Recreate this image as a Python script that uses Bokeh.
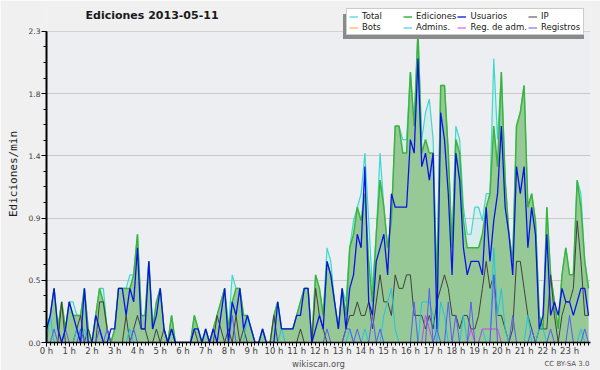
from bokeh.plotting import figure
from bokeh.models import (ColumnDataSource, Range1d, FixedTicker, Legend, LegendItem, Title, Label,
                          BoxAnnotation)
from bokeh.embed import file_html
from bokeh.resources import INLINE

title_text = "Ediciones  2013-05-11"
footer_site = "wikiscan.org"
footer_license = "CC BY-SA 3.0"
hour_labels = ["0 h", "1 h", "2 h", "3 h", "4 h", "5 h", "6 h", "7 h", "8 h", "9 h", "10 h", "11 h",
               "12 h", "13 h", "14 h", "15 h", "16 h", "17 h", "18 h", "19 h", "20 h", "21 h", "22 h", "23 h"]
y_ticks = [0, 0.46, 0.92, 1.38, 1.84, 2.3]
y_tick_labels = ["0.0", "0.5", "0.9", "1.4", "1.8", "2.3"]
y_max = 2.3

# values per 10 minutes (edits/min), 6 values per hour, 0 h .. 23 h
total = [
    0.1, 0.2, 0.4, 0.1, 0.3, 0.1,
    0.3, 0.3, 0.2, 0.2, 0.4, 0.1,
    0.0, 0.2, 0.4, 0.4, 0.1, 0.0,
    0.1, 0.4, 0.4, 0.4, 0.5, 0.5,
    0.8, 0.2, 0.2, 0.6, 0.1, 0.3,
    0.4, 0.1, 0.0, 0.2, 0.0, 0.0,
    0.0, 0.0, 0.0, 0.2, 0.1, 0.0,
    0.1, 0.0, 0.1, 0.2, 0.3, 0.4,
    0.1, 0.5, 0.4, 0.4, 0.2, 0.2,
    0.1, 0.0, 0.0, 0.1, 0.0, 0.0,
    0.2, 0.3, 0.1, 0.1, 0.1, 0.1,
    0.2, 0.3, 0.4, 0.4, 0.0, 0.5,
    0.4, 0.2, 0.7, 0.6, 0.3, 0.1,
    0.4, 0.3, 0.7, 0.9, 1.0, 1.1,
    1.4, 0.9, 0.4, 0.8, 1.4, 1.0,
    0.7, 0.9, 1.6, 1.6, 1.5, 1.5,
    2.0, 1.6, 2.3, 1.5, 1.7, 1.8,
    1.5, 0.4, 1.9, 1.9, 1.4, 0.7,
    1.6, 1.5, 1.0, 0.8, 0.8, 1.0,
    1.0, 0.9, 1.1, 1.1, 2.1, 1.5,
    2.0, 1.2, 0.8, 0.6, 1.6, 1.7,
    1.9, 1.0, 1.1, 0.9, 0.2, 0.1,
    1.0, 0.5, 0.3, 0.1, 0.5, 0.7,
    0.5, 0.5, 1.2, 1.1, 0.6, 0.4,
]
ediciones = [
    0.1, 0.2, 0.4, 0.1, 0.3, 0.1,
    0.3, 0.2, 0.2, 0.2, 0.4, 0.1,
    0.0, 0.2, 0.4, 0.3, 0.1, 0.0,
    0.1, 0.4, 0.4, 0.4, 0.4, 0.5,
    0.8, 0.2, 0.2, 0.6, 0.1, 0.3,
    0.4, 0.1, 0.0, 0.2, 0.0, 0.0,
    0.0, 0.0, 0.0, 0.2, 0.1, 0.0,
    0.1, 0.0, 0.1, 0.2, 0.3, 0.4,
    0.1, 0.3, 0.4, 0.4, 0.2, 0.2,
    0.1, 0.0, 0.0, 0.1, 0.0, 0.0,
    0.2, 0.3, 0.1, 0.1, 0.1, 0.1,
    0.2, 0.3, 0.4, 0.4, 0.0, 0.5,
    0.4, 0.2, 0.6, 0.5, 0.3, 0.1,
    0.4, 0.2, 0.7, 0.8, 1.0, 0.9,
    1.1, 0.6, 0.3, 0.8, 1.2, 1.0,
    0.7, 0.9, 1.6, 1.6, 1.4, 1.4,
    2.0, 1.6, 2.3, 1.4, 1.5, 1.4,
    1.4, 0.4, 1.9, 1.9, 1.4, 0.7,
    1.5, 1.4, 0.9, 0.7, 0.7, 0.7,
    0.7, 0.8, 1.0, 1.1, 1.6, 1.3,
    2.0, 1.2, 0.8, 0.6, 1.6, 1.7,
    1.9, 1.0, 1.1, 0.9, 0.2, 0.1,
    1.0, 0.5, 0.3, 0.1, 0.5, 0.7,
    0.5, 0.5, 1.2, 1.0, 0.6, 0.4,
]
usuarios = [
    0.1, 0.2, 0.4, 0.1, 0.0, 0.1,
    0.3, 0.2, 0.1, 0.0, 0.4, 0.0,
    0.0, 0.2, 0.1, 0.0, 0.0, 0.1,
    0.1, 0.4, 0.4, 0.2, 0.4, 0.3,
    0.7, 0.1, 0.1, 0.6, 0.1, 0.2,
    0.4, 0.1, 0.0, 0.1, 0.0, 0.0,
    0.0, 0.0, 0.0, 0.1, 0.1, 0.0,
    0.1, 0.0, 0.1, 0.0, 0.2, 0.4,
    0.0, 0.3, 0.2, 0.4, 0.1, 0.2,
    0.1, 0.0, 0.0, 0.1, 0.0, 0.0,
    0.0, 0.3, 0.1, 0.1, 0.1, 0.1,
    0.2, 0.2, 0.4, 0.4, 0.0, 0.1,
    0.2, 0.1, 0.6, 0.5, 0.3, 0.1,
    0.4, 0.1, 0.4, 0.5, 0.8, 0.7,
    1.3, 0.3, 0.2, 0.6, 0.7, 0.8,
    0.5, 1.1, 1.0, 1.0, 1.0, 1.0,
    1.5, 1.4, 2.1, 1.3, 1.4, 1.2,
    1.4, 0.1, 1.7, 1.5, 1.1, 0.5,
    1.4, 1.2, 0.7, 0.5, 0.6, 0.6,
    0.6, 0.5, 1.0, 0.6, 0.9, 1.1,
    1.6, 1.0, 0.8, 0.5, 1.3, 1.1,
    1.3, 0.7, 1.0, 0.8, 0.1, 0.2,
    0.8, 0.2, 0.3, 0.2, 0.4, 0.3,
    0.3, 0.2, 0.3, 0.4, 0.4, 0.2,
]
ip = [
    0.0, 0.0, 0.0, 0.0, 0.3, 0.0,
    0.0, 0.0, 0.1, 0.2, 0.0, 0.1,
    0.0, 0.0, 0.3, 0.3, 0.1, 0.0,
    0.0, 0.0, 0.0, 0.2, 0.0, 0.1,
    0.2, 0.1, 0.1, 0.0, 0.0, 0.1,
    0.0, 0.1, 0.0, 0.1, 0.0, 0.0,
    0.0, 0.0, 0.0, 0.1, 0.0, 0.0,
    0.0, 0.0, 0.0, 0.2, 0.1, 0.0,
    0.1, 0.0, 0.2, 0.0, 0.1, 0.0,
    0.0, 0.0, 0.0, 0.0, 0.0, 0.0,
    0.2, 0.0, 0.0, 0.0, 0.0, 0.0,
    0.0, 0.1, 0.0, 0.0, 0.0, 0.4,
    0.2, 0.1, 0.0, 0.0, 0.0, 0.0,
    0.0, 0.1, 0.2, 0.2, 0.3, 0.2,
    0.2, 0.3, 0.1, 0.3, 0.5, 0.3,
    0.3, 0.2, 0.5, 0.4, 0.4, 0.5,
    0.5, 0.2, 0.2, 0.2, 0.1, 0.2,
    0.1, 0.3, 0.4, 0.5, 0.4, 0.2,
    0.2, 0.1, 0.2, 0.2, 0.1, 0.1,
    0.2, 0.4, 0.6, 0.4, 0.5, 0.2,
    0.2, 0.1, 0.0, 0.1, 0.6, 0.6,
    0.4, 0.2, 0.1, 0.0, 0.1, 0.1,
    0.1, 0.5, 0.2, 0.0, 0.2, 0.3,
    0.3, 0.4, 0.9, 0.6, 0.2, 0.2,
]
bots = [
    0.0, 0.0, 0.0, 0.0, 0.0, 0.0,  0.0, 0.0, 0.0, 0.0, 0.0, 0.0,
    0.0, 0.0, 0.0, 0.0, 0.0, 0.0,  0.0, 0.0, 0.0, 0.0, 0.0, 0.0,
    0.0, 0.0, 0.0, 0.0, 0.0, 0.0,  0.0, 0.0, 0.0, 0.0, 0.0, 0.0,
    0.0, 0.0, 0.0, 0.0, 0.0, 0.0,  0.0, 0.0, 0.0, 0.0, 0.0, 0.0,
    0.0, 0.0, 0.0, 0.0, 0.0, 0.0,  0.0, 0.0, 0.0, 0.0, 0.0, 0.0,
    0.0, 0.0, 0.0, 0.0, 0.0, 0.0,  0.0, 0.0, 0.0, 0.0, 0.0, 0.0,
    0.0, 0.0, 0.0, 0.0, 0.0, 0.0,  0.0, 0.0, 0.0, 0.0, 0.0, 0.0,
    0.0, 0.0, 0.0, 0.0, 0.0, 0.0,  0.0, 0.0, 0.0, 0.0, 0.0, 0.0,
    0.0, 0.0, 0.0, 0.0, 0.0, 0.0,  0.0, 0.0, 0.0, 0.0, 0.0, 0.0,
    0.0, 0.0, 0.0, 0.0, 0.0, 0.0,  0.0, 0.0, 0.0, 0.0, 0.0, 0.0,
    0.0, 0.0, 0.0, 0.0, 0.0, 0.0,  0.0, 0.0, 0.0, 0.0, 0.0, 0.0,
    0.0, 0.0, 0.0, 0.0, 0.0, 0.0,  0.0, 0.0, 0.0, 0.0, 0.0, 0.0,
]
admins = [
    0.0, 0.2, 0.0, 0.0, 0.0, 0.0,
    0.0, 0.0, 0.1, 0.0, 0.1, 0.0,
    0.0, 0.0, 0.0, 0.0, 0.0, 0.0,
    0.0, 0.0, 0.0, 0.0, 0.1, 0.0,
    0.0, 0.0, 0.0, 0.0, 0.0, 0.0,
    0.0, 0.0, 0.0, 0.0, 0.0, 0.0,
    0.0, 0.0, 0.0, 0.0, 0.0, 0.0,
    0.0, 0.0, 0.0, 0.0, 0.0, 0.0,
    0.0, 0.0, 0.0, 0.0, 0.0, 0.2,
    0.1, 0.0, 0.0, 0.0, 0.0, 0.0,
    0.0, 0.0, 0.1, 0.0, 0.0, 0.0,
    0.0, 0.0, 0.0, 0.0, 0.0, 0.0,
    0.0, 0.0, 0.0, 0.0, 0.0, 0.0,
    0.0, 0.0, 0.1, 0.0, 0.0, 0.0,
    0.1, 0.0, 0.0, 0.0, 0.0, 0.2,
    0.3, 0.4, 0.1, 0.0, 0.0, 0.0,
    0.0, 0.0, 0.0, 0.3, 0.3, 0.3,
    0.2, 0.0, 0.3, 0.2, 0.0, 0.0,
    0.0, 0.0, 0.2, 0.0, 0.0, 0.0,
    0.0, 0.1, 0.0, 0.0, 0.7, 0.2,
    0.4, 0.1, 0.0, 0.0, 0.0, 0.0,
    0.0, 0.2, 0.0, 0.0, 0.1, 0.1,
    0.0, 0.0, 0.0, 0.0, 0.0, 0.0,
    0.0, 0.0, 0.0, 0.1, 0.0, 0.0,
]
reg_adm = [
    0.0, 0.0, 0.0, 0.0, 0.0, 0.0,  0.0, 0.0, 0.0, 0.0, 0.0, 0.0,
    0.0, 0.0, 0.0, 0.0, 0.0, 0.0,  0.0, 0.0, 0.0, 0.0, 0.0, 0.0,
    0.0, 0.0, 0.0, 0.0, 0.0, 0.0,  0.0, 0.0, 0.0, 0.0, 0.0, 0.0,
    0.0, 0.0, 0.0, 0.0, 0.0, 0.0,  0.0, 0.0, 0.0, 0.0, 0.0, 0.0,
    0.0, 0.0, 0.0, 0.0, 0.0, 0.0,  0.0, 0.0, 0.0, 0.0, 0.0, 0.0,
    0.0, 0.0, 0.0, 0.0, 0.0, 0.0,  0.0, 0.0, 0.0, 0.0, 0.0, 0.0,
    0.0, 0.0, 0.0, 0.0, 0.0, 0.0,  0.0, 0.0, 0.0, 0.0, 0.0, 0.0,
    0.0, 0.0, 0.0, 0.0, 0.0, 0.0,  0.0, 0.0, 0.0, 0.0, 0.0, 0.0,
    0.0, 0.0, 0.0, 0.0, 0.2, 0.1,  0.0, 0.0, 0.0, 0.0, 0.0, 0.0,
    0.0, 0.0, 0.0, 0.0, 0.1, 0.0,  0.0, 0.1, 0.1, 0.1, 0.1, 0.1,
    0.0, 0.0, 0.0, 0.0, 0.0, 0.0,  0.0, 0.0, 0.0, 0.0, 0.0, 0.0,
    0.0, 0.0, 0.0, 0.0, 0.0, 0.0,  0.0, 0.0, 0.0, 0.0, 0.0, 0.0,
]
registros = [
    0.0, 0.0, 0.1, 0.0, 0.0, 0.1,
    0.0, 0.0, 0.0, 0.1, 0.0, 0.0,
    0.0, 0.0, 0.1, 0.0, 0.1, 0.0,
    0.0, 0.0, 0.0, 0.0, 0.0, 0.1,
    0.0, 0.0, 0.0, 0.0, 0.0, 0.0,
    0.0, 0.0, 0.0, 0.0, 0.0, 0.0,
    0.0, 0.0, 0.0, 0.0, 0.0, 0.0,
    0.0, 0.0, 0.0, 0.0, 0.0, 0.0,
    0.0, 0.2, 0.0, 0.0, 0.0, 0.0,
    0.0, 0.0, 0.0, 0.0, 0.0, 0.0,
    0.0, 0.0, 0.0, 0.0, 0.0, 0.0,
    0.0, 0.0, 0.0, 0.0, 0.0, 0.0,
    0.0, 0.0, 0.1, 0.0, 0.0, 0.0,
    0.0, 0.1, 0.1, 0.0, 0.1, 0.0,
    0.0, 0.0, 0.2, 0.0, 0.1, 0.0,
    0.0, 0.0, 0.0, 0.0, 0.0, 0.0,
    0.0, 0.3, 0.0, 0.0, 0.0, 0.4,
    0.0, 0.1, 0.0, 0.0, 0.3, 0.0,
    0.2, 0.0, 0.0, 0.0, 0.3, 0.0,
    0.0, 0.0, 0.0, 0.0, 0.5, 0.0,
    0.0, 0.0, 0.0, 0.2, 0.0, 0.0,
    0.0, 0.0, 0.1, 0.0, 0.0, 0.0,
    0.0, 0.1, 0.0, 0.0, 0.0, 0.0,
    0.2, 0.0, 0.0, 0.0, 0.1, 0.0,
]

n = len(ediciones)
x = [i / 6 for i in range(n)]
zero = [0.0 for _ in range(n)]
src = ColumnDataSource(dict(x=x, zero=zero, total=total, ediciones=ediciones, usuarios=usuarios,
                            ip=ip, bots=bots, admins=admins, reg_adm=reg_adm, registros=registros))

# the frame reaches up to the top of the picture so that the title and the legend
# (which overlap the area above the 2.3 line) are drawn inside it
frame_top, axis_top, frame_bottom = 5, 31, 344
y_top = y_max * (frame_bottom - frame_top) / (frame_bottom - axis_top)

p = figure(width=600, height=370, output_backend="svg", toolbar_location=None,
           x_range=Range1d(0, 23.92), y_range=Range1d(0, y_top),
           min_border_left=46, min_border_right=10, min_border_top=frame_top, min_border_bottom=26,
           background_fill_color="#eceef1", border_fill_color="#f0f0f0", outline_line_color=None)
p.title.text = ""

# strip above the plotting area takes the page colour
p.add_layout(BoxAnnotation(bottom=y_max, fill_color="#f0f0f0", fill_alpha=1.0, line_color=None,
                           level="underlay"))

r_bots = p.line("x", "bots", source=src, line_color="#ffa020", line_width=1)
p.varea(x="x", y1="zero", y2="total", source=src, fill_color="#40e0d0", fill_alpha=0.12)
r_total = p.line("x", "total", source=src, line_color="#40d8cc", line_width=1.2)
p.varea(x="x", y1="zero", y2="ediciones", source=src, fill_color="#96c996", fill_alpha=1.0)
r_ed = p.line("x", "ediciones", source=src, line_color="#3cb43c", line_width=1.5)
r_ip = p.line("x", "ip", source=src, line_color="#404040", line_width=1)
r_adm = p.line("x", "admins", source=src, line_color="#20c4e0", line_width=1)
r_regadm = p.line("x", "reg_adm", source=src, line_color="#d040e8", line_width=1)
r_reg = p.line("x", "registros", source=src, line_color="#5a5af5", line_width=1)
r_us = p.line("x", "usuarios", source=src, line_color="#0a14e6", line_width=1.3)
# invisible renderer used only to carry the legend shadow box
r_blank = p.line(x=[0], y=[0], line_alpha=0)

# axes
x_minor = [k / 6 for k in range(145)]
p.xaxis.ticker = FixedTicker(ticks=list(range(24)), minor_ticks=x_minor)
p.xaxis.major_label_overrides = {h: hour_labels[h] for h in range(24)}
y_minor = [k * 0.115 for k in range(21)]
p.yaxis.ticker = FixedTicker(ticks=y_ticks, minor_ticks=y_minor)
p.yaxis.major_label_overrides = {t: l for t, l in zip(y_ticks, y_tick_labels)}
p.yaxis.bounds = (0, y_max)

for ax in (p.xaxis[0], p.yaxis[0]):
    ax.axis_line_color = "black"
    ax.major_tick_line_color = "black"
    ax.minor_tick_line_color = "black"
    ax.major_tick_in = 0
    ax.minor_tick_in = 0
    ax.major_label_text_font = "DejaVu Sans"
    ax.major_label_text_color = "#404040"
p.xaxis.axis_line_width = 1.5
p.yaxis.axis_line_width = 2
p.xaxis.major_tick_out = 4
p.xaxis.minor_tick_out = 3
p.yaxis.major_tick_out = 5
p.yaxis.minor_tick_out = 3
p.xaxis.major_label_text_font_size = "8.5px"
p.yaxis.major_label_text_font_size = "7.5px"
p.xaxis.major_label_standoff = -1
p.yaxis.major_label_standoff = 1
p.yaxis.axis_label = "Ediciones/min"
p.yaxis.axis_label_text_font = "DejaVu Sans Mono"
p.yaxis.axis_label_text_font_style = "normal"
p.yaxis.axis_label_text_font_size = "11px"
p.yaxis.axis_label_text_color = "#202020"
p.yaxis.axis_label_standoff = 6

p.xgrid.visible = False
p.ygrid.ticker = FixedTicker(ticks=y_ticks)
p.ygrid.grid_line_color = "#c8c8c8"
p.ygrid.grid_line_width = 1

# title
p.add_layout(Label(x=39, y=frame_bottom - 17, x_units="screen", y_units="screen", text=title_text,
                   text_font="DejaVu Sans", text_font_style="bold", text_font_size="11px",
                   text_color="#1a1a1a", text_baseline="middle", text_align="left"))

# footer texts (below the x axis)
p.add_layout(Title(text=footer_site, align="center", vertical_align="top", standoff=0,
                   text_font="DejaVu Sans", text_font_style="normal", text_font_size="8.5px",
                   text_color="#505050"), "below")
p.add_layout(Title(text=footer_license, align="right", vertical_align="top", standoff=-22, offset=1,
                   text_font="DejaVu Sans", text_font_style="normal", text_font_size="7px",
                   text_color="#505050"), "below")

# legend shadow (plain grey box behind the legend, shifted left/down)
shadow = Legend(items=[LegendItem(label=" ", renderers=[r_blank])], location=(297, 303),
                glyph_width=0, glyph_height=1, label_standoff=0, label_width=241, label_height=25,
                label_text_font_size="1px", padding=0, margin=0, border_line_color=None,
                background_fill_color="#8a8a8a", background_fill_alpha=1.0)
p.add_layout(shadow)

# legend
items = [
    LegendItem(label="Total", renderers=[r_total]),
    LegendItem(label="Ediciones", renderers=[r_ed]),
    LegendItem(label="Usuarios", renderers=[r_us]),
    LegendItem(label="IP", renderers=[r_ip]),
    LegendItem(label="Bots", renderers=[r_bots]),
    LegendItem(label="Admins.", renderers=[r_adm]),
    LegendItem(label="Reg. de adm.", renderers=[r_regadm]),
    LegendItem(label="Registros", renderers=[r_reg]),
]
legend = Legend(items=items, location=(300, 307), orientation="horizontal", ncols=4,
                label_text_font="DejaVu Sans", label_text_font_size="8.5px", label_text_color="#202020",
                label_height=8, label_width=40, glyph_height=7, glyph_width=9, label_standoff=4,
                spacing=1, padding=2, margin=0, border_line_color="#999999", border_line_width=1,
                background_fill_color="white", background_fill_alpha=1.0)
p.add_layout(legend)

open("out.html", "w").write(file_html(p, INLINE))
